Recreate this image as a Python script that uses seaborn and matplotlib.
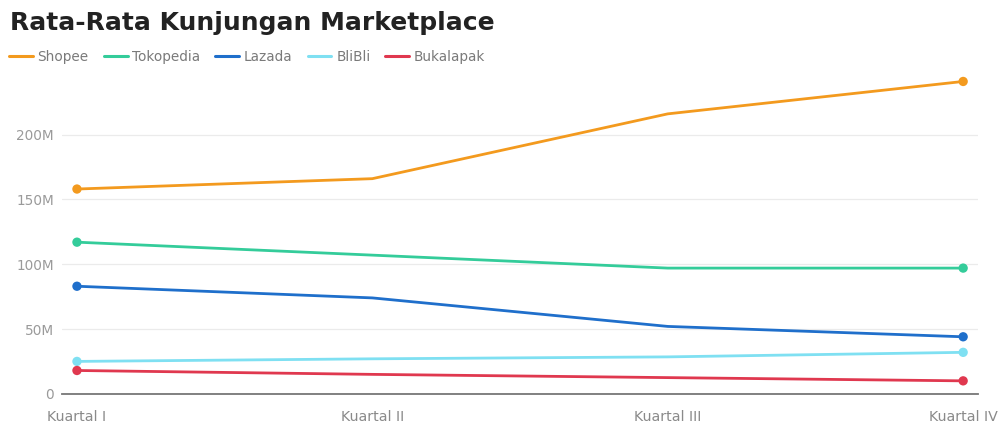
import matplotlib
matplotlib.use("Agg")
import matplotlib.pyplot as plt
import seaborn as sns
import pandas as pd
from matplotlib.ticker import FuncFormatter

quarters = ["Kuartal I", "Kuartal II", "Kuartal III", "Kuartal IV"]
shopee = [158, 166, 216, 241]
tokopedia = [117, 107, 97, 97]
lazada = [83, 74, 52, 44]
blibli = [25, 27, 28.5, 32]
bukalapak = [18, 15, 12.5, 10]
series_names = ["Shopee", "Tokopedia", "Lazada", "BliBli", "Bukalapak"]
colors = ["#F39A1E", "#34CC9A", "#1F6FCB", "#7FE0F2", "#E0384F"]

rows = []
for name, vals in zip(series_names, [shopee, tokopedia, lazada, blibli, bukalapak]):
    for i, (q, v) in enumerate(zip(quarters, vals)):
        rows.append({"series": name, "x": i, "quarter": q, "value": v * 1e6})
df = pd.DataFrame(rows)

sns.set_theme(style="white")
plt.rcParams['font.family'] = ['DejaVu Sans']

fig = plt.figure(figsize=(10.03, 4.23), dpi=100)
ax = fig.add_axes([0.062, 0.069, 0.913, 0.766])

palette = dict(zip(series_names, colors))
sns.lineplot(data=df, x="x", y="value", hue="series", palette=palette,
             hue_order=series_names, linewidth=2.0, ax=ax, legend=True)
ends = df[df["x"].isin([0, 3])]
sns.scatterplot(data=ends, x="x", y="value", hue="series", palette=palette,
                hue_order=series_names, s=45, edgecolor="none", ax=ax, legend=False, zorder=5)

ax.set_xlim(-0.05, 3.05)
ax.set_ylim(0, 250e6)
ax.set_yticks([0, 50e6, 100e6, 150e6, 200e6])
ax.yaxis.set_major_formatter(FuncFormatter(lambda v, p: "0" if v == 0 else f"{int(v/1e6)}M"))
ax.set_xticks(range(4))
ax.set_xticklabels(quarters)
ax.set_xlabel("")
ax.set_ylabel("")
ax.grid(axis="y", color="#EBEBEB", linewidth=0.9)
ax.grid(axis="x", visible=False)
for s in ["top", "right", "left"]:
    ax.spines[s].set_visible(False)
ax.spines["bottom"].set_color("#777777")
ax.spines["bottom"].set_linewidth(1.3)
ax.tick_params(axis="x", colors="#555555", direction="inout", length=5, width=1,
               labelsize=10.2, pad=9)
ax.tick_params(axis="y", length=0, labelsize=9.8, labelcolor="#9A9A9A", pad=6)
for lbl in ax.get_xticklabels():
    lbl.set_color("#8A8A8A")

h, l = ax.get_legend_handles_labels()
ax.get_legend().remove()
leg = fig.legend(h, l, loc="center left", bbox_to_anchor=(0.009, 0.865), ncol=5, frameon=False,
                 fontsize=9.8, handlelength=1.75, handletextpad=0.35, columnspacing=1.1,
                 borderaxespad=0, borderpad=0)
for t in leg.get_texts():
    t.set_color("#7A7A7A")
for line in leg.get_lines():
    line.set_linewidth(2.2)

fig.text(0.010, 0.928, "Rata-Rata Kunjungan Marketplace", fontsize=18, fontweight="bold",
         color="#222222", ha="left", va="baseline")

fig.savefig("out.png", dpi=100)
